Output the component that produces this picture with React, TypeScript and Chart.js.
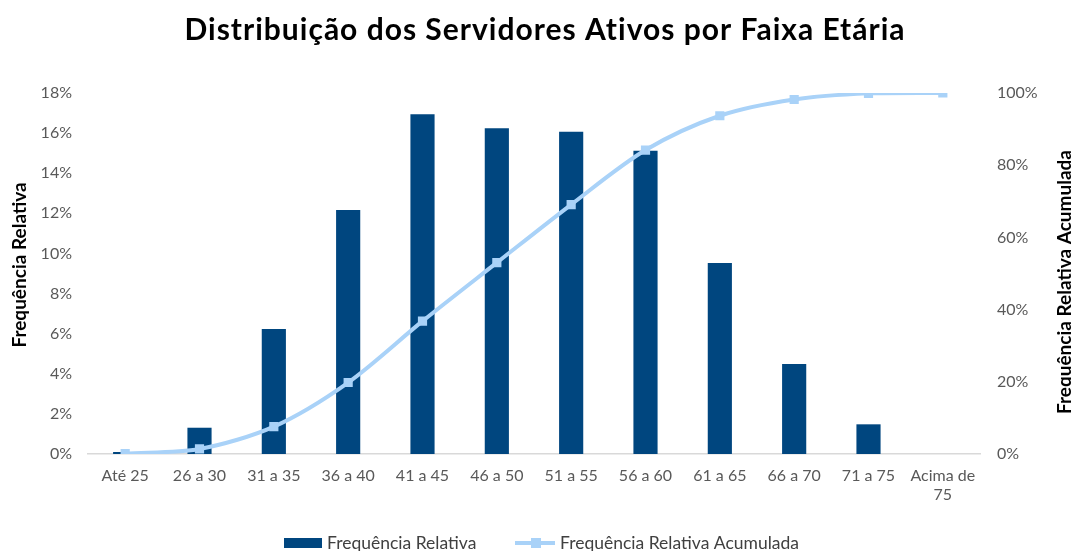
import React, { useEffect, useRef } from "react";
import { Chart, registerables } from "chart.js";

Chart.register(...registerables);

const TITLE = "Distribuição dos Servidores Ativos por Faixa Etária";
const categories: (string | string[])[] = [
  "Até 25", "26 a 30", "31 a 35", "36 a 40", "41 a 45", "46 a 50",
  "51 a 55", "56 a 60", "61 a 65", "66 a 70", "71 a 75", ["Acima de", "75"],
];
const relativeFreq = [0.1, 1.31, 6.23, 12.17, 16.94, 16.24, 16.07, 15.12, 9.52, 4.49, 1.48, 0.0];
const cumulativeFreq = [0.1, 1.4, 7.6, 19.8, 36.8, 53.0, 69.1, 84.2, 93.7, 98.2, 99.9, 100];
const leftTicks = [0, 2, 4, 6, 8, 10, 12, 14, 16, 18];
const rightTicks = [0, 20, 40, 60, 80, 100];
const seriesNames = ["Frequência Relativa", "Frequência Relativa Acumulada"];
const leftTitle = "Frequência Relativa";
const rightTitle = "Frequência Relativa Acumulada";

const BAR_COLOR = "#00467f";
const LINE_COLOR = "#a9d2f8";
const FONT = "Lato, 'Open Sans', sans-serif";

export default function App() {
  const ref = useRef<HTMLCanvasElement | null>(null);
  useEffect(() => {
    document.body.style.margin = "0";
    const canvas = ref.current!;
    const overlay = {
      id: "overlay",
      afterDraw(chart: any) {
        const ctx = chart.ctx as any;
        ctx.save();
        // title
        ctx.fillStyle = "#000";
        ctx.font = `bold 30px ${FONT}`;
        ctx.letterSpacing = "1px";
        ctx.textAlign = "center";
        ctx.textBaseline = "middle";
        ctx.fillText(TITLE, 545, 30);
        ctx.letterSpacing = "0px";
        // axis titles
        ctx.font = `bold 19px ${FONT}`;
        ctx.fillStyle = "#000";
        ctx.save();
        ctx.translate(20, 265);
        ctx.rotate(-Math.PI / 2);
        ctx.fillText(leftTitle, 0, 0);
        ctx.restore();
        ctx.save();
        ctx.translate(1065, 282);
        ctx.rotate(-Math.PI / 2);
        ctx.fillText(rightTitle, 0, 0);
        ctx.restore();
        // legend
        const ly = 543;
        ctx.font = `17.5px ${FONT}`;
        ctx.textAlign = "left";
        ctx.fillStyle = BAR_COLOR;
        ctx.fillRect(284, ly - 5, 38, 10);
        ctx.fillStyle = "#404040";
        ctx.fillText(seriesNames[0], 327, ly);
        ctx.strokeStyle = LINE_COLOR;
        ctx.lineWidth = 4;
        ctx.beginPath();
        ctx.moveTo(515, ly);
        ctx.lineTo(555, ly);
        ctx.stroke();
        ctx.fillStyle = LINE_COLOR;
        ctx.fillRect(531, ly - 5, 10, 10);
        ctx.fillStyle = "#404040";
        ctx.fillText(seriesNames[1], 560, ly);
        ctx.restore();
      },
    };
    const chart = new Chart(canvas, {
      type: "bar",
      data: {
        labels: categories,
        datasets: [
          {
            type: "line",
            label: seriesNames[1],
            data: cumulativeFreq,
            yAxisID: "y2",
            borderColor: LINE_COLOR,
            backgroundColor: LINE_COLOR,
            borderWidth: 4,
            pointStyle: "rect",
            pointRadius: 6.5,
            pointBorderWidth: 0,
            tension: 0.3,
            order: 0,
          } as any,
          {
            type: "bar",
            label: seriesNames[0],
            data: relativeFreq,
            yAxisID: "y",
            backgroundColor: BAR_COLOR,
            barPercentage: 0.65,
            categoryPercentage: 0.5,
            order: 1,
          },
        ],
      },
      options: {
        responsive: false,
        animation: false,
        layout: { padding: { top: 93, bottom: 30, left: 0, right: 0 } },
        plugins: {
          legend: { display: false },
          title: { display: false },
          tooltip: { enabled: false },
        },
        scales: {
          x: {
            grid: { display: false, drawTicks: false },
            border: { display: true, color: "#d9d9d9", width: 1.5 },
            ticks: {
              color: "#595959",
              font: { family: FONT, size: 16 },
              padding: 12,
              maxRotation: 0,
              autoSkip: false,
            },
            afterFit(scale: any) {
              scale.height = 551 - 30 - 454;
            },
          },
          y: {
            position: "left",
            min: 0,
            max: 18,
            afterBuildTicks(scale: any) {
              scale.ticks = leftTicks.map((v) => ({ value: v }));
            },
            grid: { display: false, drawTicks: false },
            border: { display: false },
            ticks: {
              color: "#595959",
              font: { family: FONT, size: 16 },
              padding: 16,
              callback: (v: any) => `${v}%`,
            },
            afterFit(scale: any) {
              scale.width = 88;
            },
          },
          y2: {
            position: "right",
            min: 0,
            max: 100,
            afterBuildTicks(scale: any) {
              scale.ticks = rightTicks.map((v) => ({ value: v }));
            },
            grid: { display: false, drawTicks: false },
            border: { display: false },
            ticks: {
              color: "#595959",
              font: { family: FONT, size: 16 },
              padding: 17,
              callback: (v: any) => `${v}%`,
            },
            afterFit(scale: any) {
              scale.width = 1071 - 980;
            },
          },
        },
      },
      plugins: [overlay],
    });
    return () => chart.destroy();
  }, []);
  return (
    <div style={{ width: 1071, height: 551, background: "#fff" }}>
      <canvas ref={ref} width={1071} height={551} style={{ display: "block" }} />
    </div>
  );
}
